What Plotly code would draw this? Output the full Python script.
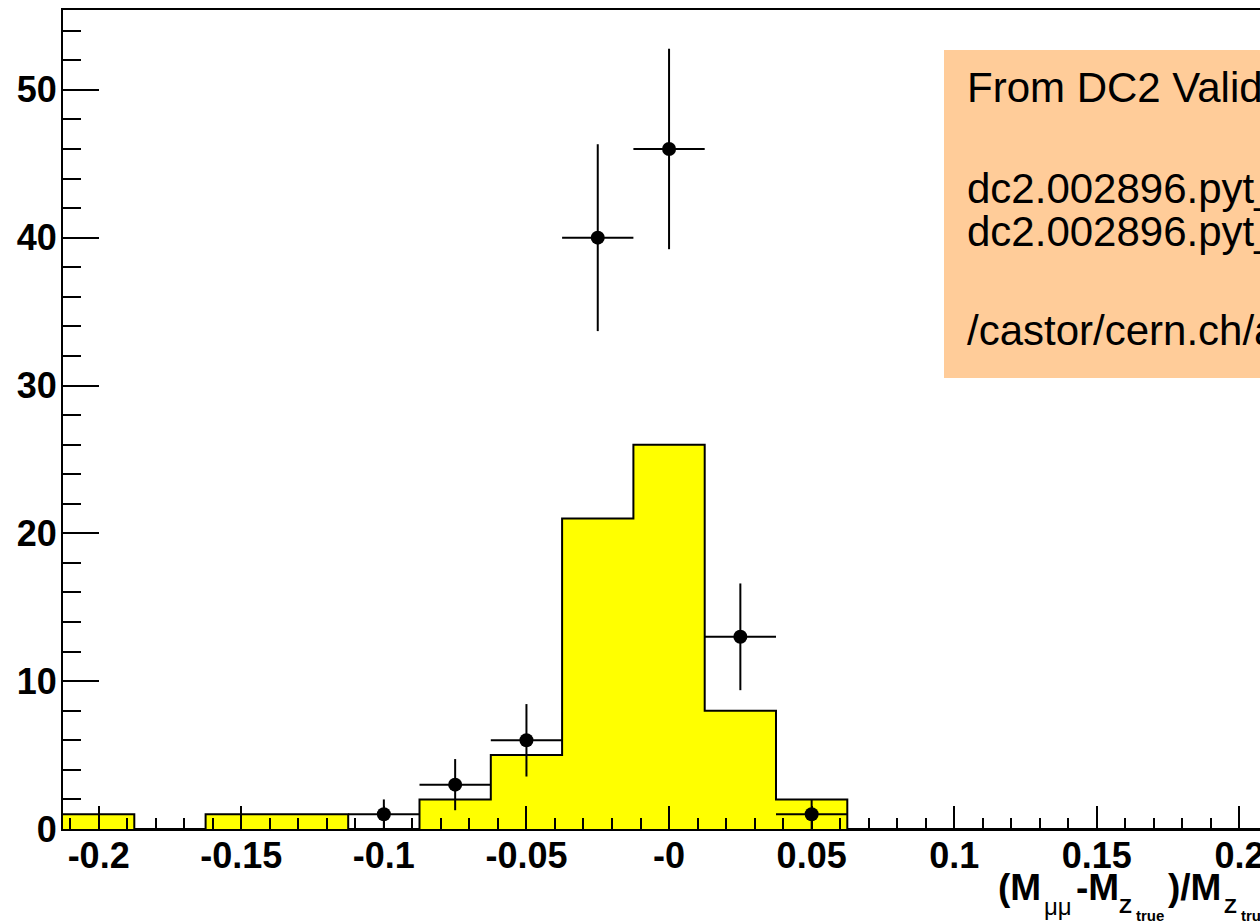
import plotly.graph_objects as go

# Simulated histogram: bin centres and entries
bin_centers = [-0.2, -0.175, -0.15, -0.125, -0.1, -0.075, -0.05, -0.025, 0.0,
               0.025, 0.05, 0.075, 0.1, 0.125, 0.15, 0.175, 0.2]
mc_counts = [1, 0, 1, 1, 0, 2, 5, 21, 26, 8, 2, 0, 0, 0, 0, 0, 0]
bin_width = 0.025

# Reconstructed points with their errors
data_x = [-0.1, -0.075, -0.05, -0.025, 0.0, 0.025, 0.05]
data_y = [1, 3, 6, 40, 46, 13, 1]
data_err = [1.0, 1.73, 2.45, 6.32, 6.78, 3.61, 1.0]

x_tickvals = [-0.2, -0.15, -0.1, -0.05, 0.0, 0.05, 0.1, 0.15, 0.2]
x_ticktext = ["-0.2", "-0.15", "-0.1", "-0.05", "-0", "0.05", "0.1", "0.15", "0.2"]
y_tickvals = [0, 10, 20, 30, 40, 50]

info_lines = [
    "From DC2 Validation",
    "dc2.002896.pyt_zmumu",
    "dc2.002896.pyt_zmumu",
    "/castor/cern.ch/atlas",
]

# x-axis title pieces: (text, font size, bold, left px, baseline px)
title_pieces = [
    ("(M", 37, True, 997, 900),
    ("μμ", 24, False, 1043, 915),
    ("-M", 37, True, 1075, 900),
    ("Z", 21, True, 1118, 913),
    ("true", 15, True, 1135, 921),
    (")/M", 37, True, 1167, 900),
    ("Z", 21, True, 1223, 913),
    ("true", 15, True, 1240, 921),
]

W, H = 1260, 922
L, R, T, B = 63, 0, 10, 93
PW, PH = W - L - R, H - T - B


def px(xp):
    return (xp - L) / PW


def py(yp):
    return (H - B - yp) / PH


FONT = "Liberation Sans, Arial, Helvetica, sans-serif"

# step outline of the histogram
edges = [c - bin_width / 2 for c in bin_centers] + [bin_centers[-1] + bin_width / 2]
step_y = mc_counts + [mc_counts[-1]]

fig = go.Figure()
fig.add_trace(go.Scatter(
    x=edges, y=step_y, mode="lines", line_shape="hv",
    line=dict(color="black", width=2),
    fill="tozeroy", fillcolor="#FFFF00", hoverinfo="skip",
))
fig.add_trace(go.Scatter(
    x=data_x, y=data_y, mode="markers",
    marker=dict(color="black", size=14, symbol="circle"),
    error_y=dict(type="data", array=data_err, color="black", thickness=2, width=0),
    error_x=dict(type="data", array=[bin_width / 2] * len(data_x), color="black",
                 thickness=2, width=0),
))

x_left = -0.2125
x_right = x_left + PW / 2852.0

fig.update_xaxes(
    range=[x_left, x_right], showgrid=False, zeroline=False,
    showline=True, linecolor="black", linewidth=2, mirror=True,
    ticks="inside", ticklen=23, tickwidth=2, tickcolor="black",
    tickvals=x_tickvals, ticktext=x_ticktext,
    tickfont=dict(family=FONT, size=36, color="black", weight="bold"),
    minor=dict(ticks="inside", dtick=0.01, tick0=0, ticklen=11, tickwidth=2,
               tickcolor="black", showgrid=False),
    automargin=False, ticklabeloverflow="allow", ticklabelstandoff=-6,
)
fig.update_yaxes(
    range=[0, 55.4], showgrid=False, zeroline=False,
    showline=True, linecolor="black", linewidth=2, mirror=False,
    ticks="inside", ticklen=36, tickwidth=2, tickcolor="black",
    tickvals=y_tickvals,
    tickfont=dict(family=FONT, size=36, color="black", weight="bold"),
    minor=dict(ticks="inside", dtick=2, tick0=0, ticklen=18, tickwidth=2,
               tickcolor="black", showgrid=False),
    automargin=False, ticklabelstandoff=-3,
)

# info pave
fig.add_shape(type="rect", xref="paper", yref="paper",
              x0=px(944), x1=px(1400), y0=py(378), y1=py(50),
              fillcolor="#FFCC99", line=dict(width=0), layer="above")

line_centres = [87, 188, 231, 330]
for txt, yc in zip(info_lines, line_centres):
    fig.add_annotation(
        text=txt, xref="paper", yref="paper", x=px(965), y=py(yc),
        xanchor="left", yanchor="middle", showarrow=False,
        font=dict(family=FONT, size=42, color="black"),
    )

# axis title, assembled piece by piece (sub- and sub-sub-scripts)
for txt, fs, bold, xl, base in title_pieces:
    fig.add_annotation(
        text=txt, xref="paper", yref="paper", x=px(xl - 1),
        y=py(base - 0.3465 * fs),
        xanchor="left", yanchor="middle", showarrow=False,
        font=dict(family=FONT, size=fs, color="black",
                  weight="bold" if bold else "normal"),
    )

fig.update_layout(
    width=W, height=H, template="none",
    margin=dict(l=L, r=R, t=T, b=B, pad=0),
    plot_bgcolor="white", paper_bgcolor="white",
    showlegend=False,
)

fig.write_html("out.html")
